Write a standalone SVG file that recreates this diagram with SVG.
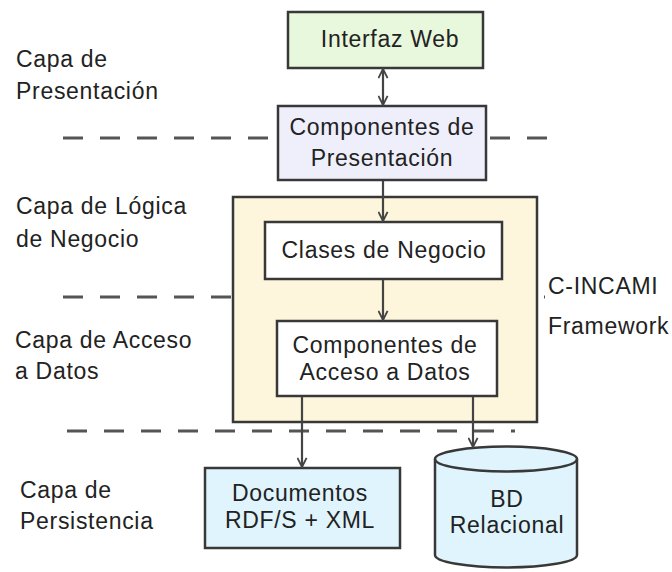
<svg xmlns="http://www.w3.org/2000/svg" width="672" height="572" viewBox="0 0 672 572">
<defs>
<style>
text{font-family:"Liberation Sans",Arial,sans-serif;font-size:23px;fill:#222;letter-spacing:0.7px}
.c{text-anchor:middle}
.box{stroke:#383838;stroke-width:2.5}
.dash{stroke:#555;stroke-width:3;stroke-dasharray:20 17;fill:none}
.conn{stroke:#444;stroke-width:2.2;fill:none}
</style>
<marker id="ah" viewBox="0 0 12 12" refX="11" refY="6" markerWidth="11" markerHeight="11" markerUnits="userSpaceOnUse" orient="auto-start-reverse">
<path d="M1,1 L11,6 L1,11" fill="none" stroke="#444" stroke-width="2"/>
</marker>
</defs>
<rect width="672" height="572" fill="#fff"/>
<g id="layers">
<text x="16" y="67">Capa de</text>
<text x="16" y="99">Presentación</text>
<text x="16" y="214">Capa de Lógica</text>
<text x="16" y="247">de Negocio</text>
<text x="15" y="348">Capa de Acceso</text>
<text x="15" y="379">a Datos</text>
<text x="20" y="498">Capa de</text>
<text x="20" y="529">Persistencia</text>
</g>
<g id="separators">
<line class="dash" x1="63" y1="138" x2="278" y2="138"/>
<line class="dash" x1="490" y1="138" x2="552" y2="138"/>
<line class="dash" x1="63" y1="297" x2="545" y2="297"/>
<line class="dash" x1="67" y1="431" x2="515" y2="431"/>
</g>
<g id="framework">
<rect class="box" x="233" y="197" width="304" height="225" fill="#fdf6dc"/>
<text x="548" y="294">C-INCAMI</text>
<text x="548" y="334">Framework</text>
</g>
<g id="interfaz-web">
<rect class="box" x="288" y="12" width="195" height="56" fill="#e8f8dc"/>
<text class="c" x="390" y="47">Interfaz Web</text>
</g>
<g id="componentes-presentacion">
<rect class="box" x="278" y="106" width="208" height="74" fill="#eeeffa"/>
<text class="c" x="382" y="135">Componentes de</text>
<text class="c" x="382" y="166">Presentación</text>
</g>
<g id="clases-negocio">
<rect class="box" x="265" y="222" width="237" height="57" fill="#fff"/>
<text class="c" x="384" y="258">Clases de Negocio</text>
</g>
<g id="componentes-acceso">
<rect class="box" x="277" y="321" width="220" height="75" fill="#fff"/>
<text class="c" x="385" y="353">Componentes de</text>
<text class="c" x="385" y="380">Acceso a Datos</text>
</g>
<g id="documentos">
<rect class="box" x="205" y="468" width="195" height="80" fill="#dff4fc"/>
<text class="c" x="300" y="501">Documentos</text>
<text class="c" x="300" y="528">RDF/S + XML</text>
</g>
<g id="bd-relacional">
<path class="box" d="M435,459 L435,555 A71,12.5 0 0 0 577,555 L577,459 A71,12.5 0 0 0 435,459 Z" fill="#dff4fc"/>
<path class="box" d="M435,459 A71,12.5 0 0 0 577,459" fill="none"/>
<text class="c" x="507" y="507">BD</text>
<text class="c" x="507" y="533">Relacional</text>
</g>
<g id="connectors">
<line class="conn" x1="383" y1="69" x2="383" y2="105" marker-start="url(#ah)" marker-end="url(#ah)"/>
<line class="conn" x1="383" y1="181" x2="383" y2="221" marker-end="url(#ah)"/>
<line class="conn" x1="383" y1="280" x2="383" y2="320" marker-end="url(#ah)"/>
<line class="conn" x1="302" y1="397" x2="302" y2="467" marker-end="url(#ah)"/>
<line class="conn" x1="473" y1="397" x2="473" y2="447" marker-end="url(#ah)"/>
</g>
</svg>
